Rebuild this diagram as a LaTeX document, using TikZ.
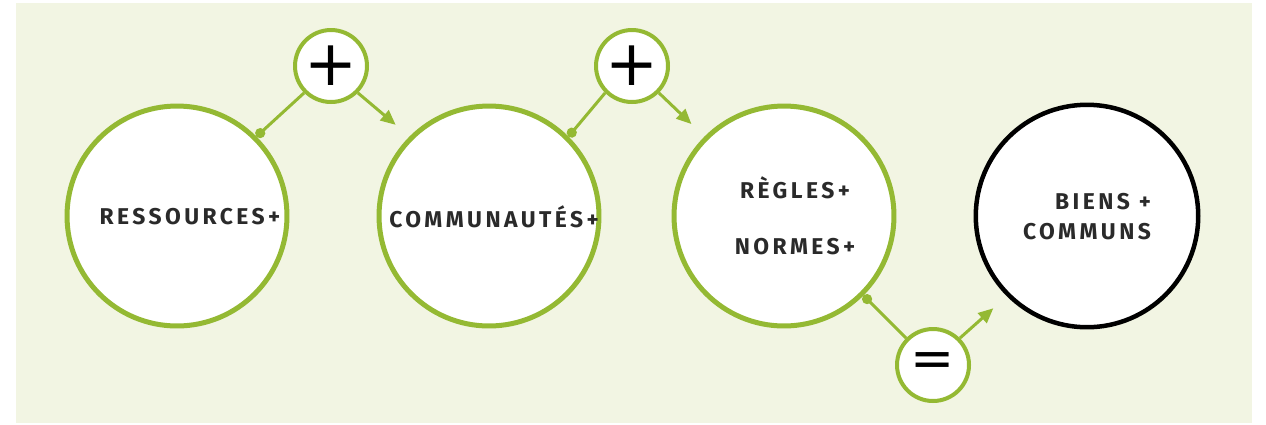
\documentclass[tikz,border=0pt]{standalone}
\usepackage{fontspec}
\usepackage{tikz}
\usetikzlibrary{arrows.meta}
\newfontfamily\capfont[LetterSpace=15]{Fira Sans}
\newfontfamily\opfont{DejaVu Sans}
\definecolor{paper}{HTML}{F2F5E3}
\definecolor{leaf}{HTML}{94B933}
\definecolor{ink}{HTML}{2A2A2A}
\tikzset{
  big/.style={circle, draw=leaf, fill=white, line width=1mm, minimum size=4.4cm, inner sep=0pt},
  opr/.style={circle, draw=leaf, fill=white, line width=0.8mm, minimum size=1.44cm, inner sep=0pt, text=black},
  lbl/.style={font=\capfont\fontsize{13}{15}\selectfont\bfseries, text=ink},
  link/.style={leaf, line width=0.6mm},
}

\begin{document}
\begin{tikzpicture}[x=0.02cm, y=-0.02cm,
  dot/.style={link, -{Circle[length=2mm]}},
  arr/.style={link, -{Triangle[length=3mm, width=2.6mm]}, shorten >=0.36cm}]
\useasboundingbox (0,0) rectangle (1266,424);
\fill[paper] (16,3) rectangle (1252,423);
% big circles
\node[big] (res) at (177,216) {};
\node[big] (com) at (489,216) {};
\node[big] (reg) at (784,216) {};
\node[big, draw=black, line width=0.9mm, minimum size=4.45cm] (bien) at (1087,216) {};
% operators
\node[opr, font=\opfont\fontsize{36}{36}\selectfont] (plusA) at (331,66) {+};
\node[opr, font=\opfont\fontsize{36}{36}\selectfont] (plusB) at (632,66) {+};
\node[opr, font=\opfont\fontsize{30}{30}\selectfont] (eq) at (933,365) {=};
% connectors
\draw[dot] (plusA.225) -- (res.45);
\draw[arr] (plusA.315) -- (com.135);
\draw[dot] (plusB.225) -- (com.45);
\draw[arr] (plusB.315) -- (reg.135);
\draw[dot] (eq.135) -- (reg.315);
\draw[arr] (eq.45) -- (bien.225);
% labels
\node[lbl] (tres) at (190,217) {RESSOURCES+};
\node[lbl] (tcom) at (494,217) {COMMUNAUTÉS+};
\node[lbl, align=center, font=\capfont\fontsize{13}{32}\selectfont\bfseries] (treg) at (795,216) {RÈGLES+\\NORMES+};
\node[lbl, align=right, font=\capfont\fontsize{13}{17}\selectfont\bfseries] (tbien) at (1087,217) {BIENS +\\COMMUNS};
\end{tikzpicture}
\end{document}
